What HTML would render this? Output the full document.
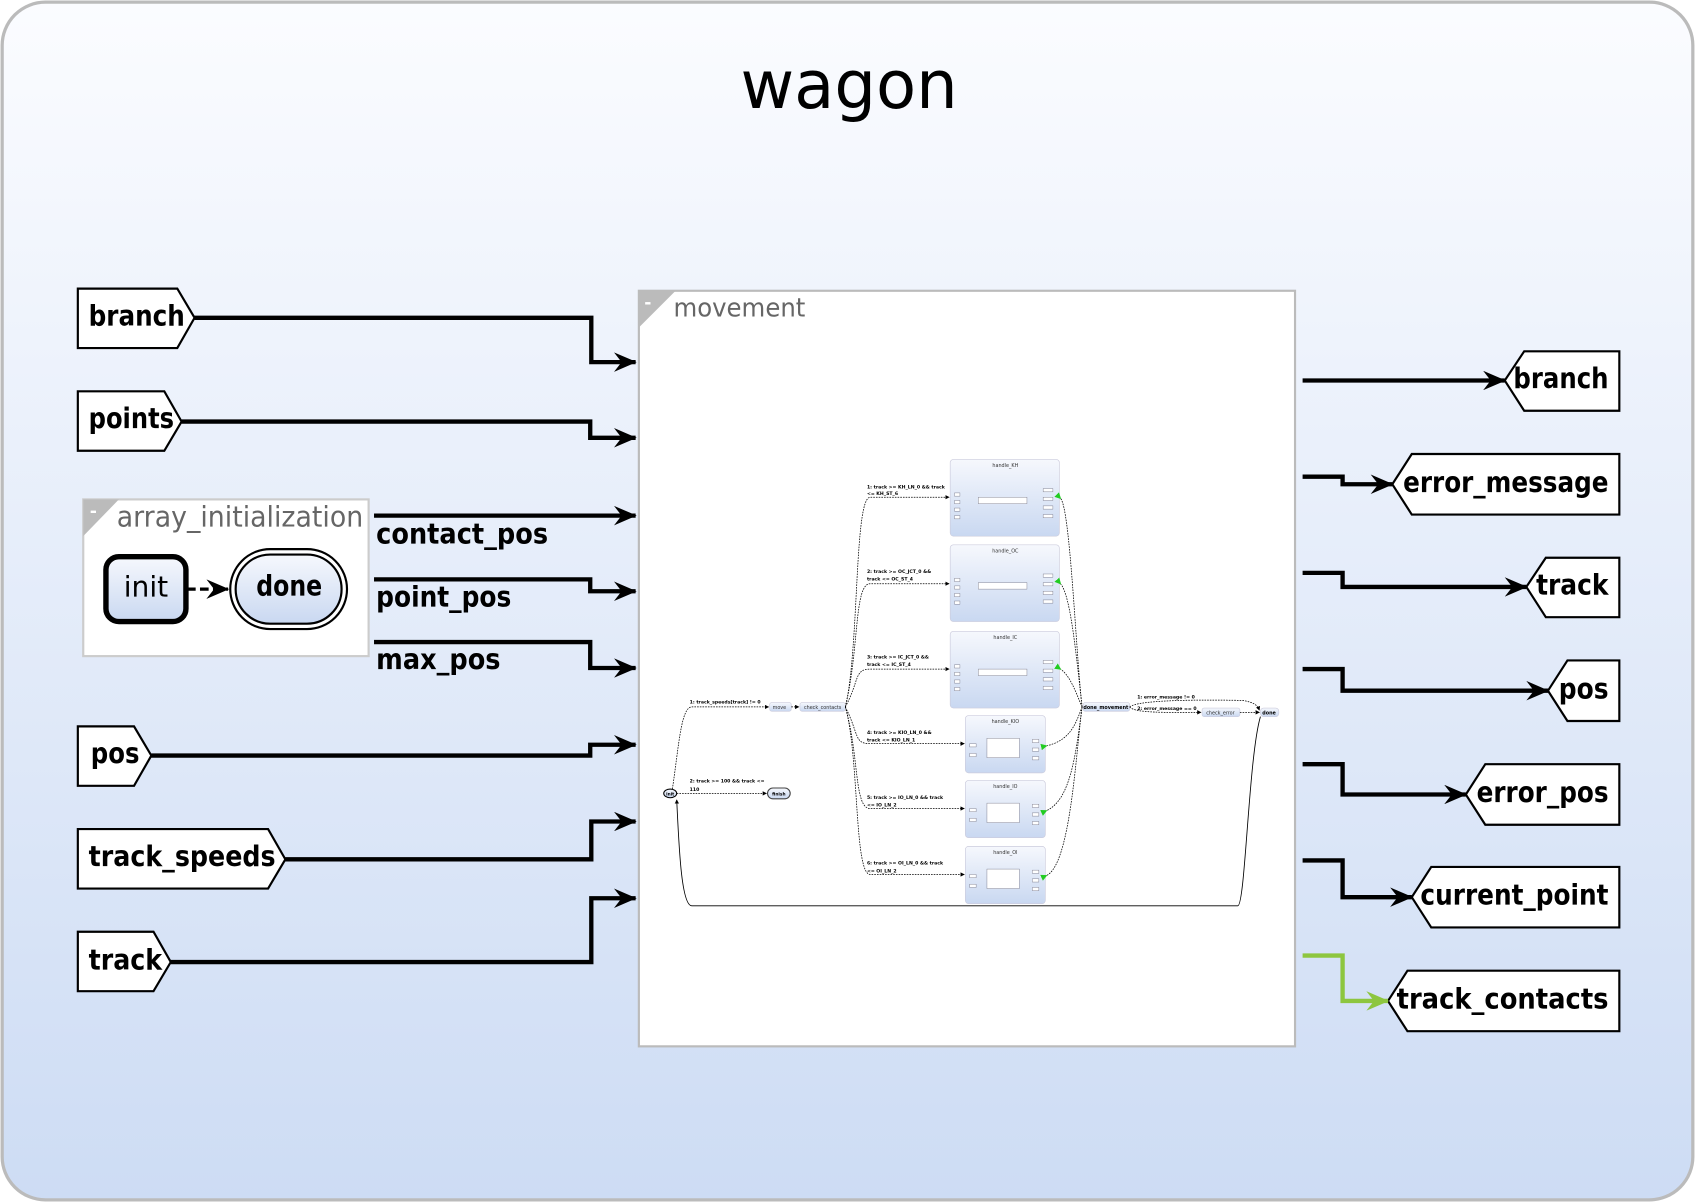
<!DOCTYPE html>
<html><head><meta charset="utf-8"><style>html,body{margin:0;padding:0;background:#fff}svg{display:block}</style></head>
<body>
<svg width="1695" height="1202" viewBox="0 0 1568 1112" preserveAspectRatio="none" xmlns="http://www.w3.org/2000/svg" font-family="'DejaVu Sans','Liberation Sans',sans-serif">
<defs>
<linearGradient id="bg" x1="0" y1="0" x2="0" y2="1"><stop offset="0" stop-color="#fbfcff"/><stop offset="1" stop-color="#cddcf4"/></linearGradient>
<linearGradient id="st" x1="0" y1="0" x2="0" y2="1"><stop offset="0" stop-color="#f6f8fd"/><stop offset="1" stop-color="#c9d8f1"/></linearGradient>
<marker id="ab" markerWidth="22" markerHeight="18" refX="20" refY="9" orient="auto" markerUnits="userSpaceOnUse"><path d="M0,0 L21,9 L0,18 L7,9 z" fill="#000"/></marker>
<marker id="ag" markerWidth="22" markerHeight="18" refX="20" refY="9" orient="auto" markerUnits="userSpaceOnUse"><path d="M0,0 L21,9 L0,18 L7,9 z" fill="#8dc63f"/></marker>
<marker id="as" markerWidth="4" markerHeight="4" refX="3.5" refY="2" orient="auto" markerUnits="userSpaceOnUse"><path d="M0,0 L4,2 L0,4 z" fill="#000"/></marker>
<marker id="agr" markerWidth="6" markerHeight="6" refX="1" refY="3" orient="auto" markerUnits="userSpaceOnUse"><path d="M6,0 L0,3 L6,6 z" fill="#2c2"/></marker>
</defs>
<rect x="2" y="2" width="1564" height="1108" rx="40" fill="url(#bg)" stroke="#bbb" stroke-width="3"/>
<text x="685" y="100" font-size="62" textLength="201" lengthAdjust="spacingAndGlyphs">wagon</text>

<g stroke="#000" stroke-width="2" fill="#fff">
<path d="M72,267 H164 L180,294 L164,322 H72 Z"/>
<path d="M72,362 H152 L168,390 L152,417 H72 Z"/>
<path d="M72,672 H124 L140,699 L124,727 H72 Z"/>
<path d="M72,767 H248 L264,795 L248,822 H72 Z"/>
<path d="M72,862 H142 L158,890 L142,917 H72 Z"/>
</g>
<g font-size="26" font-weight="bold">
<text x="82" y="301" textLength="89" lengthAdjust="spacingAndGlyphs">branch</text>
<text x="82" y="396" textLength="79" lengthAdjust="spacingAndGlyphs">points</text>
<text x="84" y="706" textLength="45" lengthAdjust="spacingAndGlyphs">pos</text>
<text x="82" y="801" textLength="173" lengthAdjust="spacingAndGlyphs">track_speeds</text>
<text x="82" y="897" textLength="68" lengthAdjust="spacingAndGlyphs">track</text>
<text x="348" y="503" textLength="159" lengthAdjust="spacingAndGlyphs">contact_pos</text>
<text x="348" y="561" textLength="125" lengthAdjust="spacingAndGlyphs">point_pos</text>
<text x="348" y="619" textLength="115" lengthAdjust="spacingAndGlyphs">max_pos</text>
</g>
<g stroke="#000" stroke-width="4" fill="none" marker-end="url(#ab)">
<path d="M180,294 H547 V335 H588"/>
<path d="M168,390 H546 V405 H588"/>
<path d="M346,477 H588"/>
<path d="M346,536 H546 V547 H588"/>
<path d="M346,594 H546 V618 H588"/>
<path d="M140,699 H546 V689 H588"/>
<path d="M264,795 H547 V760 H588"/>
<path d="M158,890 H547 V831 H588"/>
</g>

<rect x="77" y="462" width="264" height="145" fill="#fff" stroke="#ccc" stroke-width="2"/>
<path d="M77,462 H110 L77,496 Z" fill="#bbb"/>
<text x="83" y="478" font-size="16" fill="#fff" font-weight="bold">-</text>
<text x="108" y="487" font-size="26" fill="#666" textLength="228" lengthAdjust="spacingAndGlyphs">array_initialization</text>
<rect x="98" y="515" width="74" height="60" rx="12" fill="url(#st)" stroke="#000" stroke-width="5"/>
<text x="135" y="552" font-size="26" text-anchor="middle">init</text>
<rect x="213" y="508" width="108" height="74" rx="37" fill="#fff" stroke="#000" stroke-width="2"/>
<rect x="218" y="513" width="98" height="64" rx="32" fill="url(#st)" stroke="#000" stroke-width="2"/>
<text x="237" y="551" font-size="26" font-weight="bold" textLength="61" lengthAdjust="spacingAndGlyphs">done</text>
<path d="M173,545 H211" stroke="#000" stroke-width="3" stroke-dasharray="8,4" fill="none" marker-end="url(#ab)"/>

<rect x="591" y="269" width="607" height="699" fill="#fff" stroke="#bbb" stroke-width="2"/>
<path d="M591,269 H625 L591,303 Z" fill="#bbb"/>
<text x="596" y="285" font-size="16" fill="#fff" font-weight="bold">-</text>
<text x="623" y="293" font-size="24" fill="#666" textLength="122" lengthAdjust="spacingAndGlyphs">movement</text>

<g font-size="4.5">
<g fill="url(#st)" stroke="#ccd" stroke-width="0.6">
<rect x="879" y="425" width="101" height="71" rx="3"/>
<rect x="879" y="504" width="101" height="71" rx="3"/>
<rect x="879" y="584" width="101" height="71" rx="3"/>
<rect x="893" y="662" width="74" height="53" rx="3"/>
<rect x="893" y="722" width="74" height="53" rx="3"/>
<rect x="893" y="783" width="74" height="53" rx="3"/>
<rect x="712" y="650" width="20" height="8" rx="2"/>
<rect x="740" y="650" width="42" height="8" rx="2"/>
<rect x="1002" y="650" width="43" height="8" rx="2"/>
<rect x="1112" y="655" width="35" height="8" rx="2"/>
<rect x="1166" y="655" width="17" height="8" rx="3"/>
</g>
<g fill="#333" text-anchor="middle">
<text x="930" y="432">handle_KH</text><text x="930" y="511">handle_OC</text><text x="930" y="591">handle_IC</text>
<text x="930" y="669">handle_KIO</text><text x="930" y="729">handle_IO</text><text x="930" y="790">handle_OI</text>
<text x="721" y="656">move</text><text x="761" y="656">check_contacts</text>
<text x="1023" y="656" font-weight="bold" fill="#000">done_movement</text>
<text x="1129" y="661">check_error</text><text x="1174" y="661" font-weight="bold" fill="#000">done</text>
</g>
<g fill="#fff" stroke="#778" stroke-width="0.4">
<rect x="905" y="460" width="45" height="6"/><rect x="905" y="539" width="45" height="6"/><rect x="905" y="619" width="45" height="6"/>
<rect x="913" y="683" width="30" height="18"/><rect x="913" y="743" width="30" height="18"/><rect x="913" y="804" width="30" height="18"/>
<rect x="883" y="456" width="5" height="3"/><rect x="883" y="463" width="5" height="3"/><rect x="883" y="470" width="5" height="3"/><rect x="883" y="477" width="5" height="3"/>
<rect x="883" y="535" width="5" height="3"/><rect x="883" y="542" width="5" height="3"/><rect x="883" y="549" width="5" height="3"/><rect x="883" y="556" width="5" height="3"/>
<rect x="883" y="615" width="5" height="3"/><rect x="883" y="622" width="5" height="3"/><rect x="883" y="629" width="5" height="3"/><rect x="883" y="636" width="5" height="3"/>
<rect x="965" y="452" width="9" height="3"/><rect x="965" y="460" width="9" height="3"/><rect x="965" y="468" width="9" height="3"/><rect x="965" y="476" width="9" height="3"/>
<rect x="965" y="531" width="9" height="3"/><rect x="965" y="539" width="9" height="3"/><rect x="965" y="547" width="9" height="3"/><rect x="965" y="555" width="9" height="3"/>
<rect x="965" y="611" width="9" height="3"/><rect x="965" y="619" width="9" height="3"/><rect x="965" y="627" width="9" height="3"/><rect x="965" y="635" width="9" height="3"/>
<rect x="897" y="688" width="6" height="3"/><rect x="897" y="697" width="6" height="3"/><rect x="955" y="684" width="6" height="3"/><rect x="955" y="692" width="6" height="3"/><rect x="955" y="700" width="6" height="3"/>
<rect x="897" y="748" width="6" height="3"/><rect x="897" y="757" width="6" height="3"/><rect x="955" y="744" width="6" height="3"/><rect x="955" y="752" width="6" height="3"/><rect x="955" y="760" width="6" height="3"/>
<rect x="897" y="809" width="6" height="3"/><rect x="897" y="818" width="6" height="3"/><rect x="955" y="805" width="6" height="3"/><rect x="955" y="813" width="6" height="3"/><rect x="955" y="821" width="6" height="3"/>
</g>
<ellipse cx="620" cy="734" rx="6" ry="4" fill="url(#st)" stroke="#000" stroke-width="1"/>
<text x="620" y="736" text-anchor="middle" font-size="4" font-weight="bold">init</text>
<rect x="710" y="729" width="21" height="10" rx="5" fill="url(#st)" stroke="#444" stroke-width="1"/>
<text x="720.5" y="736" text-anchor="middle" font-size="4" font-weight="bold">finish</text>
<g stroke="#000" stroke-width="0.7" fill="none" stroke-dasharray="1.5,1" marker-end="url(#as)">
<path d="M626,734 H709"/>
<path d="M622,730 C628,690 630,654 640,654 H711"/>
<path d="M732,654 H739"/>
<path d="M782,654 C795,600 790,460 805,460 H878"/>
<path d="M782,654 C795,600 790,540 805,540 H878"/>
<path d="M782,654 C795,630 790,619 805,619 H878"/>
<path d="M782,654 C795,680 790,688 805,688 H892"/>
<path d="M782,654 C795,700 790,748 805,748 H892"/>
<path d="M782,654 C795,700 790,809 805,809 H892"/>
<path d="M1045,654 C1052,648 1100,647 1150,648 C1160,650 1163,652 1165,657"/>
<path d="M1045,654 C1050,660 1080,659 1111,659"/>
<path d="M1147,659 H1165"/>
</g>
<g stroke="#000" stroke-width="0.7" fill="none" stroke-dasharray="1.5,1" marker-end="url(#agr)">
<path d="M1001,654 C995,600 990,470 981,461"/>
<path d="M1001,654 C995,600 990,550 981,540"/>
<path d="M1001,654 C995,640 990,625 981,619"/>
<path d="M1001,654 C995,670 990,685 968,690"/>
<path d="M1001,654 C995,700 990,740 968,750"/>
<path d="M1001,654 C995,700 990,800 968,810"/>
</g>
<path d="M1166,663 C1155,700 1152,838 1145,838 H640 C630,838 628,780 626,740" stroke="#000" stroke-width="0.8" fill="none" marker-end="url(#as)"/>
<g font-size="4.3" font-weight="bold">
<text x="638" y="651">1: track_speeds[track] != 0</text>
<text x="638" y="724">2: track &gt;= 100 &amp;&amp; track &lt;=</text><text x="638" y="732">110</text>
<text x="802" y="452">1: track &gt;= KH_LN_0 &amp;&amp; track</text><text x="802" y="458">&lt;= KH_ST_6</text>
<text x="802" y="530">2: track &gt;= OC_JCT_0 &amp;&amp;</text><text x="802" y="537">track &lt;= OC_ST_4</text>
<text x="802" y="609">3: track &gt;= IC_JCT_0 &amp;&amp;</text><text x="802" y="616">track &lt;= IC_ST_4</text>
<text x="802" y="679">4: track &gt;= KIO_LN_0 &amp;&amp;</text><text x="802" y="686">track &lt;= KIO_LN_1</text>
<text x="802" y="739">5: track &gt;= IO_LN_0 &amp;&amp; track</text><text x="802" y="746">&lt;= IO_LN_2</text>
<text x="802" y="800">6: track &gt;= OI_LN_0 &amp;&amp; track</text><text x="802" y="807">&lt;= OI_LN_2</text>
<text x="1052" y="646">1: error_message != 0</text>
<text x="1052" y="657">2: error_message == 0</text>
</g>
</g>

<g stroke="#000" stroke-width="2" fill="#fff">
<path d="M1498,325 H1410 L1392,352 L1410,380 H1498 Z"/>
<path d="M1498,420 H1306 L1288,448 L1306,476 H1498 Z"/>
<path d="M1498,516 H1430 L1412,543 L1430,571 H1498 Z"/>
<path d="M1498,611 H1450 L1432,639 L1450,667 H1498 Z"/>
<path d="M1498,707 H1374 L1356,735 L1374,763 H1498 Z"/>
<path d="M1498,802 H1324 L1306,830 L1324,858 H1498 Z"/>
<path d="M1498,898 H1302 L1284,926 L1302,954 H1498 Z"/>
</g>
<g stroke="#000" stroke-width="4" fill="none" marker-end="url(#ab)">
<path d="M1205,352 H1392"/>
<path d="M1205,441 H1242 V448 H1288"/>
<path d="M1205,530 H1242 V543 H1412"/>
<path d="M1205,619 H1242 V639 H1432"/>
<path d="M1205,707 H1242 V735 H1356"/>
<path d="M1205,796 H1242 V830 H1306"/>
</g>
<path d="M1205,884 H1242 V926 H1284" stroke="#8dc63f" stroke-width="4" fill="none" marker-end="url(#ag)"/>
<g font-size="26" font-weight="bold">
<text x="1400" y="359" textLength="88" lengthAdjust="spacingAndGlyphs">branch</text>
<text x="1298" y="455" textLength="190" lengthAdjust="spacingAndGlyphs">error_message</text>
<text x="1421" y="550" textLength="67" lengthAdjust="spacingAndGlyphs">track</text>
<text x="1442" y="646" textLength="46" lengthAdjust="spacingAndGlyphs">pos</text>
<text x="1366" y="742" textLength="122" lengthAdjust="spacingAndGlyphs">error_pos</text>
<text x="1314" y="837" textLength="174" lengthAdjust="spacingAndGlyphs">current_point</text>
<text x="1292" y="933" textLength="196" lengthAdjust="spacingAndGlyphs">track_contacts</text>
</g>
</svg>
</body></html>
